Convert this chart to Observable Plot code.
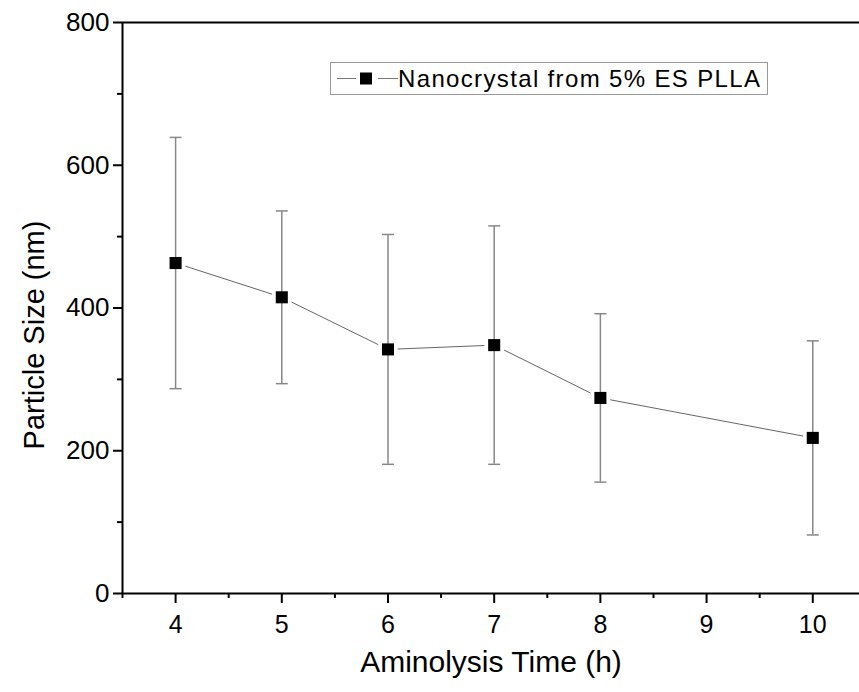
<!DOCTYPE html>
<html><head><meta charset="utf-8">
<script src="https://cdn.jsdelivr.net/npm/d3@7"></script>
<script src="https://cdn.jsdelivr.net/npm/@observablehq/plot@0.6"></script>
<style>
body{margin:0;background:#fff;overflow:hidden}
#wrap{position:relative;width:859px;height:692px;font-family:"Liberation Sans",Arial,sans-serif}
#legend{position:absolute;left:330px;top:62px;width:436px;height:31px;border:1px solid #999;background:#fff;display:flex;align-items:center;box-sizing:content-box}
#legend span{font-size:24px;color:#000;white-space:nowrap;letter-spacing:1.35px}
</style></head><body><div id="wrap"></div>
<script>
const times = [4, 5, 6, 7, 8, 10];
const sizes = [463, 415, 342, 348, 274, 218];
const errors = [176, 121, 161, 167, 118, 136];
const xTicks = [4, 5, 6, 7, 8, 9, 10];
const xMinor = [3.5, 4.5, 5.5, 6.5, 7.5, 8.5, 9.5];
const yTicks = [0, 200, 400, 600, 800];
const yMinor = [100, 300, 500, 700];
const seriesName = "Nanocrystal from 5% ES PLLA";
const xTitle = "Aminolysis Time (h)";
const yTitle = "Particle Size (nm)";

const data = times.map((t, i) => ({t, v: sizes[i], lo: sizes[i] - errors[i], hi: sizes[i] + errors[i]}));
const caps = data.flatMap(d => [{t: d.t, v: d.lo}, {t: d.t, v: d.hi}]);
const capSymbol = {draw(ctx) { ctx.moveTo(-6, 0); ctx.lineTo(6, 0); }};

const chart = Plot.plot({
  width: 859, height: 692,
  marginLeft: 122, marginRight: 0, marginTop: 22, marginBottom: 99,
  style: {fontFamily: '"Liberation Sans", Arial, sans-serif', color: "#000", background: "#fff"},
  x: {domain: [3.5, 10.44], axis: null},
  y: {domain: [0, 800], axis: null},
  marks: [
    Plot.line(data, {x: "t", y: "v", stroke: "#666", strokeWidth: 1}),
    Plot.dot(data, {x: "t", y: "v", symbol: "square", r: 6.5, fill: "white", stroke: "white", strokeWidth: 8}),
    Plot.ruleX(data, {x: "t", y1: "lo", y2: "hi", stroke: "#888", strokeWidth: 1.5}),
    Plot.dot(caps, {x: "t", y: "v", symbol: capSymbol, stroke: "#888", strokeWidth: 1.5, fill: "none"}),
    Plot.dot(data, {x: "t", y: "v", symbol: "square", r: 6.8, fill: "black"}),
    Plot.ruleY([0, 800], {stroke: "black", strokeWidth: 2}),
    Plot.ruleX([3.5], {stroke: "black", strokeWidth: 2}),
    Plot.axisY(yTicks, {tickSize: 9, tickPadding: 4, strokeWidth: 2, fontSize: 26, color: "black", label: null}),
    Plot.axisY(yMinor, {tickSize: 5, text: null, strokeWidth: 2, color: "black", label: null}),
    Plot.axisX(xTicks, {tickSize: 10, tickPadding: 12, strokeWidth: 2, fontSize: 25, color: "black", label: null}),
    Plot.axisX(xMinor, {tickSize: 5, text: null, strokeWidth: 2, color: "black", label: null}),
    Plot.text([xTitle], {frameAnchor: "bottom", textAnchor: "middle", lineAnchor: "middle", dy: 69, fontSize: 30, fill: "black"}),
    Plot.text([yTitle], {frameAnchor: "left", textAnchor: "middle", lineAnchor: "middle", dx: -88, dy: 27, rotate: -90, fontSize: 29, fill: "black"})
  ]
});
const wrap = document.getElementById("wrap");
wrap.appendChild(chart);

const legend = document.createElement("div");
legend.id = "legend";
legend.innerHTML = `<svg width="67" height="31" style="flex:none"><line x1="6" x2="25" y1="15.5" y2="15.5" stroke="#777" stroke-width="1"/><rect x="29" y="9.5" width="12" height="12" fill="black"/><line x1="47" x2="67" y1="15.5" y2="15.5" stroke="#777" stroke-width="1"/></svg><span></span>`;
legend.querySelector("span").textContent = seriesName;
wrap.appendChild(legend);
</script>
</body></html>
